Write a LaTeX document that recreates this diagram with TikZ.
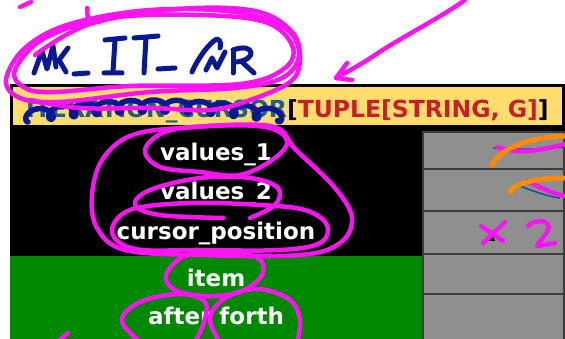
\documentclass[tikz,border=0pt]{standalone}
\usepackage{fontspec}
\setmainfont{DejaVu Sans}
\begin{document}
\begin{tikzpicture}[x=1pt,y=-1pt]
\definecolor{hdryellow}{RGB}{255,220,110}
\definecolor{featgreen}{RGB}{0,136,0}
\definecolor{cellgray}{RGB}{143,143,143}
\definecolor{cellline}{RGB}{60,60,60}
\definecolor{clsblue}{RGB}{30,95,140}
\definecolor{genred}{RGB}{200,30,40}
\definecolor{inkblue}{RGB}{10,25,145}
\definecolor{inkmag}{RGB}{250,20,240}
\definecolor{inkorange}{RGB}{255,140,0}
\definecolor{thinblue}{RGB}{20,80,140}
\tikzset{
  rowtext/.style={text=white, font=\bfseries\fontsize{23}{27}\selectfont, inner sep=0pt, anchor=base},
  pen/.style={line width=5pt, line cap=round, line join=round},
  magpen/.style={pen, draw=inkmag, line width=4.5pt},
  bluepen/.style={pen, draw=inkblue},
  orangepen/.style={pen, draw=inkorange},
}
\useasboundingbox (0,0) rectangle (565,339);
\fill[white] (0,0) rectangle (565,339);

% class body
\fill[black] (10,126) rectangle (565,256);
\fill[featgreen] (10,256) rectangle (423,345);
\draw[black, line width=3pt, fill=hdryellow] (11.5,86) rectangle (563.5,126.5);
\foreach \a/\b in {132/169,169/211,211/254,254/294,294/350}
  \draw[cellline, line width=1.5pt, fill=cellgray] (423,\a) rectangle (564,\b);

% class name and features
\node[anchor=base west, inner sep=0pt, font=\bfseries\fontsize{23.5}{28}\selectfont] (hdr) at (26,118)
  {\textcolor{clsblue}{ITERATION\_CURSOR}[\textcolor{genred}{TUPLE[STRING, G]}]};
\node[rowtext] (v1) at (216,161) {values\_1};
\node[rowtext] (v2) at (216,200) {values\_2};
\node[rowtext] (cp) at (216,240) {cursor\_position};
\node[rowtext] (it) at (216,286) {item};
\node[rowtext] (af) at (216,324) {after forth};

% crossing out the class name
\draw[pen, draw=inkblue, line width=5.5pt]
  plot[domain=0:4000, samples=400] ({28 + 0.0635*\x - 7*sin(\x)}, {116 - 10*sin(\x*0.045) + 6*cos(\x)});

% handwritten new name
\draw[bluepen] (34,73) -- (42,51) -- (47,69) -- (53,46) -- (56,67);
\draw[bluepen] (68,48) -- (59,60) -- (66,72);
\draw[bluepen] (74,74) -- (88,73);
\draw[bluepen] (105,40) -- (125,38) (115,40) -- (113,72) (104,73) -- (122,73);
\draw[bluepen] (134,38) -- (158,36) (146,37) -- (144,73);
\draw[bluepen] (158,69) -- (175,68);
\draw[bluepen] (192,72) .. controls (198,58) and (210,42) .. (217,39) .. controls (221,40) and (221,45) .. (220,48);
\draw[bluepen] (206,70) -- (212,58) -- (217,68) -- (225,52);
\draw[bluepen] (233,50) -- (233,73);
\draw[bluepen] (233,50) .. controls (255,42) and (258,60) .. (236,62);
\draw[bluepen] (242,62) -- (254,73);

% loops around the new name
\draw[magpen] plot[smooth cycle, tension=0.6] coordinates
  {(6,80) (25,48) (70,24) (150,10) (235,12) (285,28) (299,55) (282,78) (235,88) (150,92) (60,102) (20,98)};
\draw[magpen] plot[smooth cycle, tension=0.6] coordinates
  {(15,70) (45,38) (110,18) (200,15) (265,22) (292,45) (285,68) (240,84) (130,86) (55,92) (25,88)};
\draw[magpen] plot[smooth, tension=0.6] coordinates
  {(35,55) (90,24) (180,9) (255,11) (292,32) (300,60) (290,82) (250,100) (210,110) (150,108) (80,108) (30,100)};
\draw[magpen] (20,7) -- (31,2);
\draw[magpen] (87,8) -- (88,21) -- (99,22);

% arrow to the class header
\coordinate (tip) at (336,78);
\draw[magpen] (465,0) .. controls (440,18) and (400,38) .. (375,55) .. controls (360,65) and (345,73) .. (tip);
\draw[magpen] (347,63) -- (tip) -- (352,80);

% loops around the features
\draw[magpen] plot[smooth cycle, tension=0.6] coordinates
  {(145,150) (165,132) (210,126) (265,127) (287,140) (275,158) (240,175) (200,172) (160,167)};
\draw[magpen] plot[smooth, tension=0.6] coordinates
  {(250,218) (275,205) (278,188) (250,178) (200,178) (150,190) (135,205) (160,215) (223,218)};
\draw[magpen] plot[smooth cycle, tension=0.6] coordinates
  {(112,232) (130,210) (190,203) (260,205) (305,210) (327,225) (320,243) (280,250) (200,250) (135,249)};
\draw[magpen] plot[smooth cycle, tension=0.6] coordinates
  {(180,128) (270,126) (296,150) (335,188) (352,218) (340,243) (300,255) (200,255) (125,250) (97,228) (92,195) (102,160) (130,136)};
\draw[magpen] plot[smooth cycle, tension=0.6] coordinates
  {(166,275) (185,256) (225,252) (258,258) (262,275) (240,292) (205,296) (175,290)};
\draw[magpen] plot[smooth, tension=0.6] coordinates
  {(150,350) (122,322) (140,302) (180,294) (205,302) (203,325) (190,350)};
\draw[magpen] plot[smooth, tension=0.6] coordinates
  {(225,350) (210,320) (225,298) (258,289) (290,300) (300,322) (295,350)};
\draw[magpen] (68,333) -- (58,341);

% notes on the right column
\draw[thinblue, line width=1.5pt] (493,148) .. controls (520,150) and (540,149) .. (566,147);
\draw[magpen] (497,147) .. controls (520,155) and (540,150) .. (566,144);
\draw[orangepen] (492,165) .. controls (500,148) and (530,137) .. (566,136);
\draw[thinblue, line width=1.5pt] (520,186) .. controls (535,192) and (550,197) .. (560,198);
\draw[magpen] (527,181) .. controls (540,187) and (555,195) .. (566,196);
\draw[orangepen] (510,192) .. controls (515,182) and (540,178) .. (566,178);
\fill[black] (487,241) -- (491,232) -- (495,241) -- cycle;
\draw[magpen] (481,226) -- (503,241) (505,222) -- (483,243);
\draw[magpen] (528,226) .. controls (535,218) and (552,220) .. (548,230) .. controls (545,237) and (538,242) .. (537,246) -- (555,243);
\end{tikzpicture}
\end{document}
